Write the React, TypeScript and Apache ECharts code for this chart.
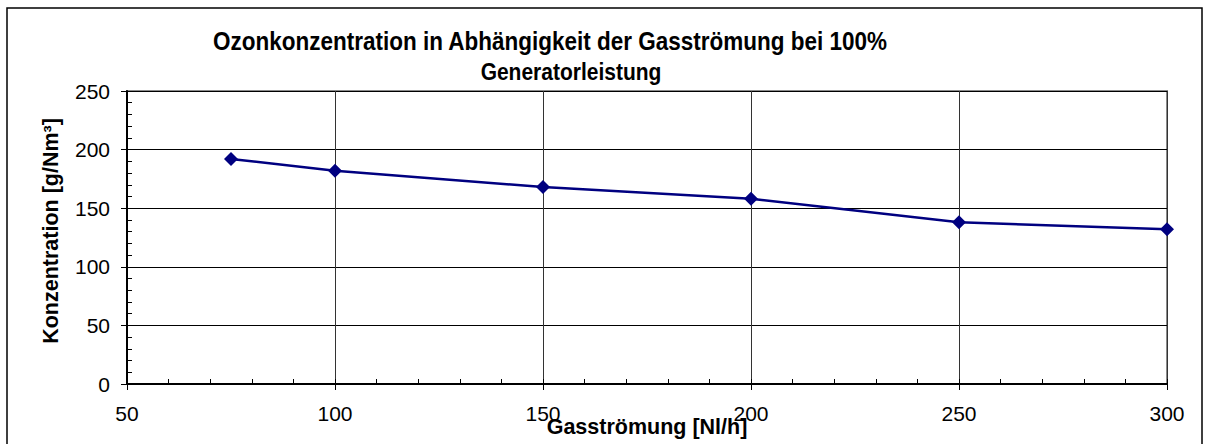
import React, { useEffect, useRef } from "react";
import * as echarts from "echarts";

const flowRates = [75, 100, 150, 200, 250, 300];
const concentrations = [192, 182, 168, 158, 138, 132];
const titleLine1 = "Ozonkonzentration in Abhängigkeit der Gasströmung bei 100%";
const titleLine2 = "Generatorleistung";
const xName = "Gasströmung [Nl/h]";
const yName = "Konzentration [g/Nm³]";

const FONT = "'Liberation Sans', Arial, sans-serif";

export default function App() {
  const ref = useRef<HTMLDivElement>(null);
  useEffect(() => {
    if (!ref.current) return;
    const chart = echarts.init(ref.current, null, { renderer: "svg" });
    const gridBox = { left: 127, top: 91, right: 42, bottom: 60 };
    chart.setOption({
      animation: false,
      backgroundColor: "#fff",
      grid: {
        ...gridBox,
        show: true,
        borderColor: "#8a8a8a",
        borderWidth: 2,
        backgroundColor: "transparent",
      },
      xAxis: [
        {
          type: "value",
          min: 50,
          max: 300,
          interval: 50,
          axisLine: { show: true, onZero: false, lineStyle: { color: "#000", width: 2 } },
          axisTick: { show: true, inside: false, length: 6, lineStyle: { color: "#000", width: 1 } },
          axisLabel: { margin: 19, fontSize: 21, color: "#000", fontFamily: FONT },
          splitLine: { show: true, lineStyle: { color: "#333", width: 1 } },
        },
        {
          type: "value",
          position: "bottom",
          min: 50,
          max: 300,
          interval: 50,
          axisLine: { show: false, onZero: false },
          axisTick: { show: true, inside: true, length: 5, lineStyle: { color: "#000", width: 1 } },
          minorTick: { show: true, splitNumber: 5, length: 5, lineStyle: { color: "#000", width: 1 } },
          axisLabel: { show: false },
          splitLine: { show: false },
        },
      ],
      yAxis: [
        {
          type: "value",
          min: 0,
          max: 250,
          interval: 50,
          axisLine: { show: true, onZero: false, lineStyle: { color: "#000", width: 2 } },
          axisTick: { show: true, inside: false, length: 6, lineStyle: { color: "#000", width: 1 } },
          axisLabel: { margin: 17, fontSize: 21, color: "#000", fontFamily: FONT },
          splitLine: { show: true, lineStyle: { color: "#000", width: 1 } },
        },
        {
          type: "value",
          position: "left",
          min: 0,
          max: 250,
          interval: 50,
          axisLine: { show: false, onZero: false },
          axisTick: { show: true, inside: true, length: 5, lineStyle: { color: "#000", width: 1 } },
          minorTick: { show: true, splitNumber: 5, length: 5, lineStyle: { color: "#000", width: 1 } },
          axisLabel: { show: false },
          splitLine: { show: false },
        },
      ],
      series: [
        {
          type: "line",
          xAxisIndex: 0,
          yAxisIndex: 0,
          data: flowRates.map((x, i) => [x, concentrations[i]]),
          symbol: "diamond",
          symbolSize: 14,
          lineStyle: { color: "#000080", width: 2.5 },
          itemStyle: { color: "#000080" },
          z: 5,
        },
      ],
      graphic: [
        {
          type: "rect",
          shape: { x: 7, y: 8, width: 1195, height: 445 },
          style: { fill: "none", stroke: "#000", lineWidth: 1.5 },
          silent: true,
        },
        {
          type: "text",
          x: 213,
          y: 41,
          scaleY: 1.15,
          style: {
            text: titleLine1,
            font: `bold 22.5px ${FONT}`,
            fill: "#000",
            textAlign: "left",
            textVerticalAlign: "middle",
          },
        },
        {
          type: "text",
          x: 571,
          y: 71,
          scaleY: 1.18,
          style: {
            text: titleLine2,
            font: `bold 21px ${FONT}`,
            fill: "#000",
            textAlign: "center",
            textVerticalAlign: "middle",
          },
        },
        {
          type: "text",
          x: 647,
          y: 427,
          style: {
            text: xName,
            font: `bold 21.5px ${FONT}`,
            fill: "#000",
            textAlign: "center",
            textVerticalAlign: "middle",
          },
        },
        {
          type: "text",
          x: 51,
          y: 231,
          rotation: Math.PI / 2,
          style: {
            text: yName,
            font: `bold 21.5px ${FONT}`,
            fill: "#000",
            textAlign: "center",
            textVerticalAlign: "middle",
          },
        },
      ],
    });
    return () => chart.dispose();
  }, []);
  return (
    <div
      ref={ref}
      style={{ position: "fixed", left: 0, top: 0, width: 1209, height: 444 }}
    />
  );
}
